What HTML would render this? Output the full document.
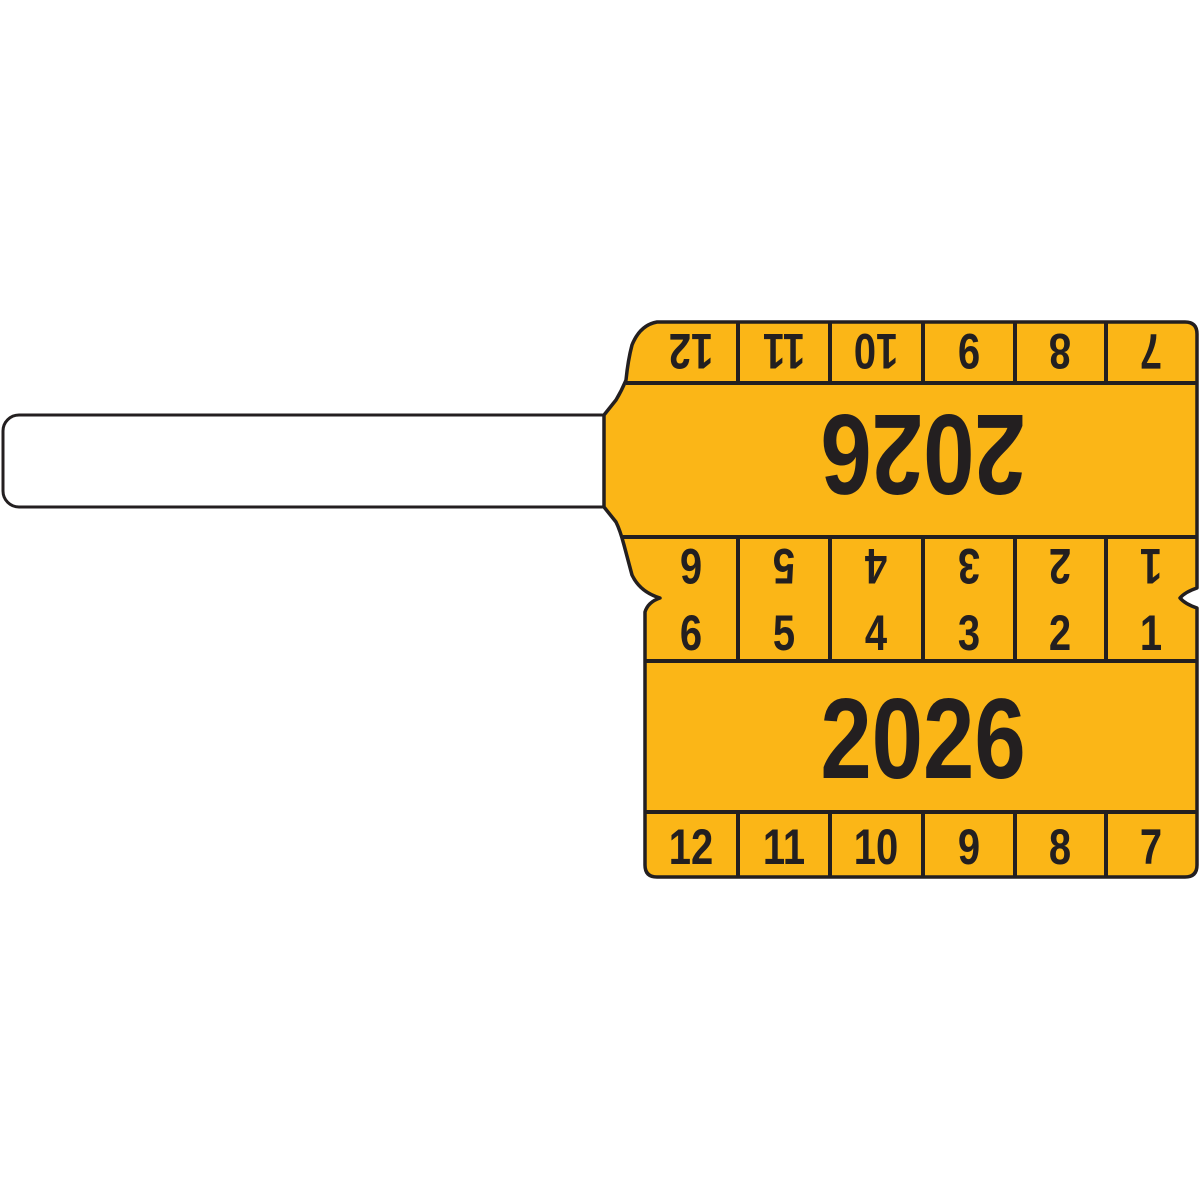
<!DOCTYPE html>
<html><head><meta charset="utf-8"><style>
html,body{margin:0;padding:0;background:#fff;}
svg{display:block}
text{font-family:"Liberation Sans Narrow","Liberation Sans",sans-serif;font-weight:bold;fill:#231f20;text-anchor:middle}
.s{font-size:50px}
.b{font-size:114px}
</style></head><body>
<svg width="1200" height="1200" viewBox="0 0 1200 1200" xmlns="http://www.w3.org/2000/svg">
<rect x="3" y="415" width="615" height="92" rx="16" fill="#fff" stroke="#231f20" stroke-width="3"/>
<path d="M657,322 L1185,322 Q1197,322 1197,334 L1197,588 Q1185,592 1180,598 Q1185,604 1197,608 L1197,865 Q1197,877 1185,877 L657,877 Q645,877 645,865 L645,612 Q648,602 660,598 Q640,592 632,575 Q628,560 624,545 Q620,530 616,522 L604,507 L604,415 L616,400 Q622,390 626,380 Q628,360 632,345 Q640,325 657,322 Z" fill="#fbb617" stroke="#231f20" stroke-width="3.5" stroke-linejoin="round"/>
<g stroke="#231f20" stroke-width="4" fill="none">
<line x1="626" y1="383" x2="1197" y2="383"/>
<line x1="623" y1="537" x2="1197" y2="537"/>
<line x1="645" y1="661" x2="1197" y2="661"/>
<line x1="645" y1="812" x2="1197" y2="812"/>
<line x1="738" y1="322" x2="738" y2="383"/><line x1="830" y1="322" x2="830" y2="383"/><line x1="923" y1="322" x2="923" y2="383"/><line x1="1015" y1="322" x2="1015" y2="383"/><line x1="1106" y1="322" x2="1106" y2="383"/>
<line x1="738" y1="537" x2="738" y2="661"/><line x1="830" y1="537" x2="830" y2="661"/><line x1="923" y1="537" x2="923" y2="661"/><line x1="1015" y1="537" x2="1015" y2="661"/><line x1="1106" y1="537" x2="1106" y2="661"/>
<line x1="738" y1="812" x2="738" y2="877"/><line x1="830" y1="812" x2="830" y2="877"/><line x1="923" y1="812" x2="923" y2="877"/><line x1="1015" y1="812" x2="1015" y2="877"/><line x1="1106" y1="812" x2="1106" y2="877"/>
</g>
<g transform="translate(691,352) rotate(180) scale(0.8,1)"><text class="s" y="18">12</text></g>
<g transform="translate(784,352) rotate(180) scale(0.8,1)"><text class="s" y="18">11</text></g>
<g transform="translate(876,352) rotate(180) scale(0.8,1)"><text class="s" y="18">10</text></g>
<g transform="translate(969,352) rotate(180) scale(0.8,1)"><text class="s" y="18">9</text></g>
<g transform="translate(1060,352) rotate(180) scale(0.8,1)"><text class="s" y="18">8</text></g>
<g transform="translate(1151,352) rotate(180) scale(0.8,1)"><text class="s" y="18">7</text></g>
<g transform="translate(691,567) rotate(180) scale(0.8,1)"><text class="s" y="18">6</text></g>
<g transform="translate(784,567) rotate(180) scale(0.8,1)"><text class="s" y="18">5</text></g>
<g transform="translate(876,567) rotate(180) scale(0.8,1)"><text class="s" y="18">4</text></g>
<g transform="translate(969,567) rotate(180) scale(0.8,1)"><text class="s" y="18">3</text></g>
<g transform="translate(1060,567) rotate(180) scale(0.8,1)"><text class="s" y="18">2</text></g>
<g transform="translate(1151,567) rotate(180) scale(0.8,1)"><text class="s" y="18">1</text></g>
<g transform="translate(691,650) scale(0.8,1)"><text class="s">6</text></g>
<g transform="translate(784,650) scale(0.8,1)"><text class="s">5</text></g>
<g transform="translate(876,650) scale(0.8,1)"><text class="s">4</text></g>
<g transform="translate(969,650) scale(0.8,1)"><text class="s">3</text></g>
<g transform="translate(1060,650) scale(0.8,1)"><text class="s">2</text></g>
<g transform="translate(1151,650) scale(0.8,1)"><text class="s">1</text></g>
<g transform="translate(691,864) scale(0.8,1)"><text class="s">12</text></g>
<g transform="translate(784,864) scale(0.8,1)"><text class="s">11</text></g>
<g transform="translate(876,864) scale(0.8,1)"><text class="s">10</text></g>
<g transform="translate(969,864) scale(0.8,1)"><text class="s">9</text></g>
<g transform="translate(1060,864) scale(0.8,1)"><text class="s">8</text></g>
<g transform="translate(1151,864) scale(0.8,1)"><text class="s">7</text></g>
<g transform="translate(923,456) rotate(180) scale(0.81,1)"><text class="b" y="41">2026</text></g>
<g transform="translate(923,778) scale(0.81,1)"><text class="b">2026</text></g>
</svg>
</body></html>
